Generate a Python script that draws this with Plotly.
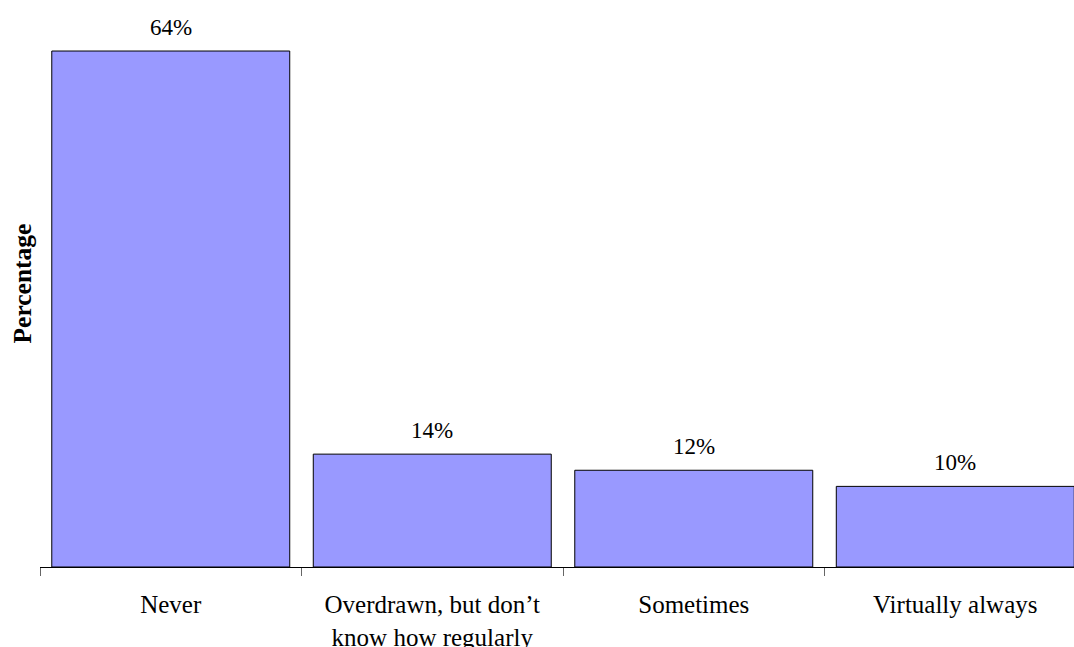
import plotly.graph_objects as go

categories = ["Never", "Overdrawn, but don’t<br>know how regularly", "Sometimes", "Virtually always"]
values = [64, 14, 12, 10]
labels = ["64%", "14%", "12%", "10%"]

FONT = "Liberation Serif"

fig = go.Figure(go.Bar(
    x=categories, y=values,
    marker=dict(color="#9999FF", line=dict(color="#000000", width=1)),
    hoverinfo="skip",
))

for c, v, t in zip(categories, values, labels):
    fig.add_annotation(x=c, y=v, text=t, showarrow=False, yanchor="bottom", yshift=9,
                       font=dict(family=FONT, size=23, color="#000000"))

fig.add_annotation(xref="paper", yref="paper", x=(22 - 40) / 1034, y=0.5, text="<b>Percentage</b>",
                   textangle=-90, showarrow=False, xanchor="center", yanchor="middle",
                   font=dict(family=FONT, size=25.5, color="#000000"))

fig.update_layout(
    width=1074, height=647,
    margin=dict(l=40, r=0, t=0, b=80, autoexpand=False),
    paper_bgcolor="white", plot_bgcolor="white",
    bargap=0.09,
    showlegend=False,
    font=dict(family=FONT, size=23, color="#000000"),
    xaxis=dict(type="category", range=[-0.5, 3.454], showline=True, linecolor="#000000", linewidth=1,
               ticks="outside", tickson="boundaries", ticklen=8, tickcolor="#666666", tickwidth=1,
               ticklabelstandoff=15, automargin=False,
               showgrid=False, zeroline=False, tickfont=dict(family=FONT, size=25, color="#000000")),
    yaxis=dict(range=[0, 70.33], showline=False, showgrid=False, zeroline=False,
               showticklabels=False, ticks="", automargin=False),
)

fig.write_html("out.html")
